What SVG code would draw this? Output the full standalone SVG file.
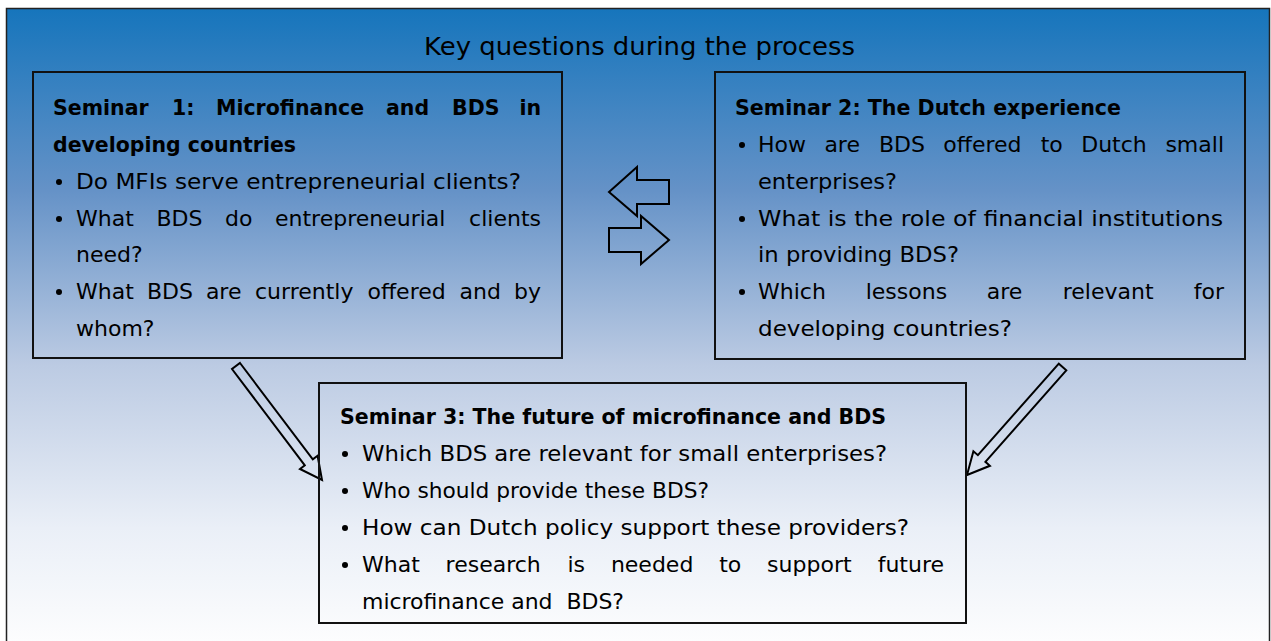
<svg xmlns="http://www.w3.org/2000/svg" width="1271" height="641" viewBox="0 0 1271 641">
<defs>
<linearGradient id="bg" x1="0" y1="0" x2="0" y2="1">
<stop offset="0" stop-color="#1675bc"/>
<stop offset="0.28" stop-color="#6592c7"/>
<stop offset="0.55" stop-color="#bccbe3"/>
<stop offset="0.8" stop-color="#eaeff7"/>
<stop offset="1" stop-color="#ffffff"/>
</linearGradient>
<style>
.box{fill:none;stroke:#111;stroke-width:2}
.arr{fill:none;stroke:#000;stroke-width:2;stroke-linejoin:miter}
text{font-family:"DejaVu Sans","Liberation Sans",sans-serif;fill:#000}
.b{font-size:22px}
.h{font-size:20.5px;font-weight:bold}
.t{font-size:25px}
</style>
</defs>
<rect x="6.5" y="8.5" width="1263" height="650" fill="url(#bg)" stroke="#222" stroke-width="1.5"/>
<text class="t" x="424" y="55" textLength="431" lengthAdjust="spacingAndGlyphs">Key questions during the process</text>

<g id="connectors">
<polygon class="arr" points="609,192 637,167 637,180 669,180 669,204 637,204 637,216"/>
<polygon class="arr" points="609,228 641,228 641,216 669,240 641,264 641,252 609,252"/>
<polygon class="arr" points="240,363 312.8,459.4 317.6,455.8 322,480 300,469 304.8,465.4 232,369"/>
<polygon class="arr" points="1066.3,370.3 985.4,461.8 989.9,465.8 967,475 973.4,451.2 977.9,455.2 1058.8,363.7"/>
</g>

<g id="seminar1">
<rect class="box" x="33" y="72" width="529" height="286"/>
<text class="h" y="115"><tspan x="53">Seminar</tspan><tspan x="172">1:</tspan><tspan x="216">Microfinance</tspan><tspan x="386">and</tspan><tspan x="452">BDS</tspan><tspan x="541" text-anchor="end">in</tspan></text>
<text class="h" x="53" y="152" textLength="243" lengthAdjust="spacingAndGlyphs">developing countries</text>
<circle cx="59" cy="182" r="3"/>
<text class="b" x="76" y="189" textLength="445" lengthAdjust="spacingAndGlyphs">Do MFIs serve entrepreneurial clients?</text>
<circle cx="59" cy="219" r="3"/>
<text class="b" y="226"><tspan x="76">What</tspan><tspan x="156.4">BDS</tspan><tspan x="225">do</tspan><tspan x="275">entrepreneurial</tspan><tspan x="541" text-anchor="end">clients</tspan></text>
<text class="b" x="76" y="262">need?</text>
<circle cx="59" cy="292" r="3"/>
<text class="b" y="299"><tspan x="76">What</tspan><tspan x="146.9">BDS</tspan><tspan x="205.9">are</tspan><tspan x="255">currently</tspan><tspan x="367.5">offered</tspan><tspan x="459.5">and</tspan><tspan x="541" text-anchor="end">by</tspan></text>
<text class="b" x="76" y="336">whom?</text>
</g>

<g id="seminar2">
<rect class="box" x="715" y="72" width="530" height="287"/>
<text class="h" x="735" y="115" textLength="386" lengthAdjust="spacingAndGlyphs">Seminar 2: The Dutch experience</text>
<circle cx="742" cy="145" r="3"/>
<text class="b" y="152"><tspan x="758">How</tspan><tspan x="824.4">are</tspan><tspan x="878.9">BDS</tspan><tspan x="943.3">offered</tspan><tspan x="1040.7">to</tspan><tspan x="1081.2">Dutch</tspan><tspan x="1224" text-anchor="end">small</tspan></text>
<text class="b" x="758" y="189" textLength="139" lengthAdjust="spacingAndGlyphs">enterprises?</text>
<circle cx="742" cy="219" r="3"/>
<text class="b" x="758" y="226" textLength="465" lengthAdjust="spacingAndGlyphs">What is the role of financial institutions</text>
<text class="b" x="758" y="262" textLength="201" lengthAdjust="spacingAndGlyphs">in providing BDS?</text>
<circle cx="742" cy="292" r="3"/>
<text class="b" y="299"><tspan x="758">Which</tspan><tspan x="865.7">lessons</tspan><tspan x="986.8">are</tspan><tspan x="1062.7">relevant</tspan><tspan x="1224" text-anchor="end">for</tspan></text>
<text class="b" x="758" y="336" textLength="254" lengthAdjust="spacingAndGlyphs">developing countries?</text>
</g>

<g id="seminar3">
<rect class="box" x="319" y="383" width="647" height="240"/>
<text class="h" x="340" y="424" textLength="546" lengthAdjust="spacingAndGlyphs">Seminar 3: The future of microfinance and BDS</text>
<circle cx="345" cy="454" r="3"/>
<text class="b" x="362" y="461" textLength="525" lengthAdjust="spacingAndGlyphs">Which BDS are relevant for small enterprises?</text>
<circle cx="345" cy="491" r="3"/>
<text class="b" x="362" y="498" textLength="347" lengthAdjust="spacingAndGlyphs">Who should provide these BDS?</text>
<circle cx="345" cy="528" r="3"/>
<text class="b" x="362" y="535" textLength="547" lengthAdjust="spacingAndGlyphs">How can Dutch policy support these providers?</text>
<circle cx="345" cy="565" r="3"/>
<text class="b" y="572"><tspan x="362">What</tspan><tspan x="445.6">research</tspan><tspan x="567.5">is</tspan><tspan x="610.9">needed</tspan><tspan x="719.2">to</tspan><tspan x="767.1">support</tspan><tspan x="944" text-anchor="end">future</tspan></text>
<text class="b" x="362" y="609" textLength="262" lengthAdjust="spacingAndGlyphs" xml:space="preserve">microfinance and  BDS?</text>
</g>
</svg>
